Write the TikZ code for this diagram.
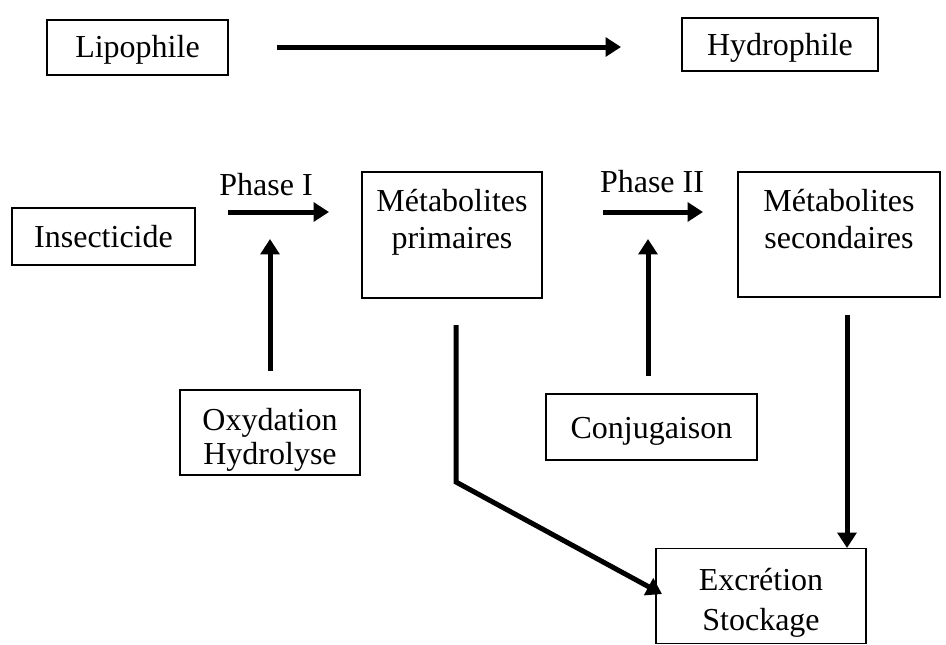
\documentclass[tikz,border=0pt]{standalone}
\usepackage{fontspec}
\setmainfont{Liberation Serif}
\usepackage{tikz}
\usetikzlibrary{positioning,arrows.meta}

\begin{document}
\begin{tikzpicture}[x=0.75pt,y=-0.75pt,
  box/.style={draw, line width=1.1pt, inner sep=0pt},
  txt/.style={align=center, inner sep=0pt, anchor=north,
    font=\fontsize{24}{27.75}\selectfont, execute at begin node=\strut},
  lab/.style={font=\fontsize{24}{27.75}\selectfont},
  fleche/.style={line width=3.75pt, -{Triangle[length=11.5pt,width=14pt]}}]

  \useasboundingbox (0,0) rectangle (946,644);

  \node[box, minimum width=135.75pt, minimum height=41.25pt] (lipo) at (137.5,47.5) {};
  \node[box, minimum width=147pt, minimum height=39.75pt] (hydro) at (780,44.5) {};
  \node[box, minimum width=137.25pt, minimum height=42.75pt] (insect) at (103.5,236.5) {};
  \node[box, minimum width=135pt, minimum height=94.5pt] (prim) at (452,235) {};
  \node[box, minimum width=151.5pt, minimum height=93.75pt] (sec) at (839,234.5) {};
  \node[box, minimum width=135pt, minimum height=63.75pt] (oxy) at (270,432.5) {};
  \node[box, minimum width=158.25pt, minimum height=49.5pt] (conj) at (651.5,427) {};
  \node[box, minimum width=157.5pt, minimum height=71.25pt] (excr) at (761,596) {};

  \node[txt, below=9pt of lipo.north] (lipotxt) {Lipophile};
  \node[txt, below=9pt of hydro.north] (hydrotxt) {Hydrophile};
  \node[txt, below=10.6pt of insect.north] (insecttxt) {Insecticide};
  \node[txt, below=13.6pt of prim.north] (primtxt) {Métabolites\\primaires};
  \node[txt, below=13.6pt of sec.north] (sectxt) {Métabolites\\secondaires};
  \node[txt, below=13.8pt of oxy.north, font=\fontsize{24}{26}\selectfont] (oxytxt) {Oxydation\\Hydrolyse};
  \node[txt, below=14.2pt of conj.north] (conjtxt) {Conjugaison};
  \node[txt, below=15pt of excr.north, font=\fontsize{24}{30}\selectfont] (excrtxt) {Excrétion\\Stockage};

  \node[lab] (ph1) at (266,185) {Phase I};
  \node[lab] (ph2) at (652,182) {Phase II};

  \coordinate (lpA) at (277,47);
  \coordinate (lpB) at (621,47);
  \coordinate (p1A) at (228,212);
  \coordinate (p1B) at (329,212);
  \coordinate (p2A) at (603,212);
  \coordinate (p2B) at (703,212);
  \coordinate (oxA) at (270,371);
  \coordinate (oxB) at (270,239);
  \coordinate (cjA) at (648,376);
  \coordinate (cjB) at (648,239);
  \coordinate (seA) at (847,315);
  \coordinate (seB) at (847,548);
  \coordinate (prA) at (456,325);
  \coordinate (prK) at (456,482);
  \coordinate (prB) at (662,594);

  \draw[fleche] (lpA) -- (lpB);
  \draw[fleche] (p1A) -- (p1B);
  \draw[fleche] (p2A) -- (p2B);
  \draw[fleche] (oxA) -- (oxB);
  \draw[fleche] (cjA) -- (cjB);
  \draw[fleche] (seA) -- (seB);
  \draw[fleche] (prA) -- (prK) -- (prB);

\end{tikzpicture}
\end{document}
